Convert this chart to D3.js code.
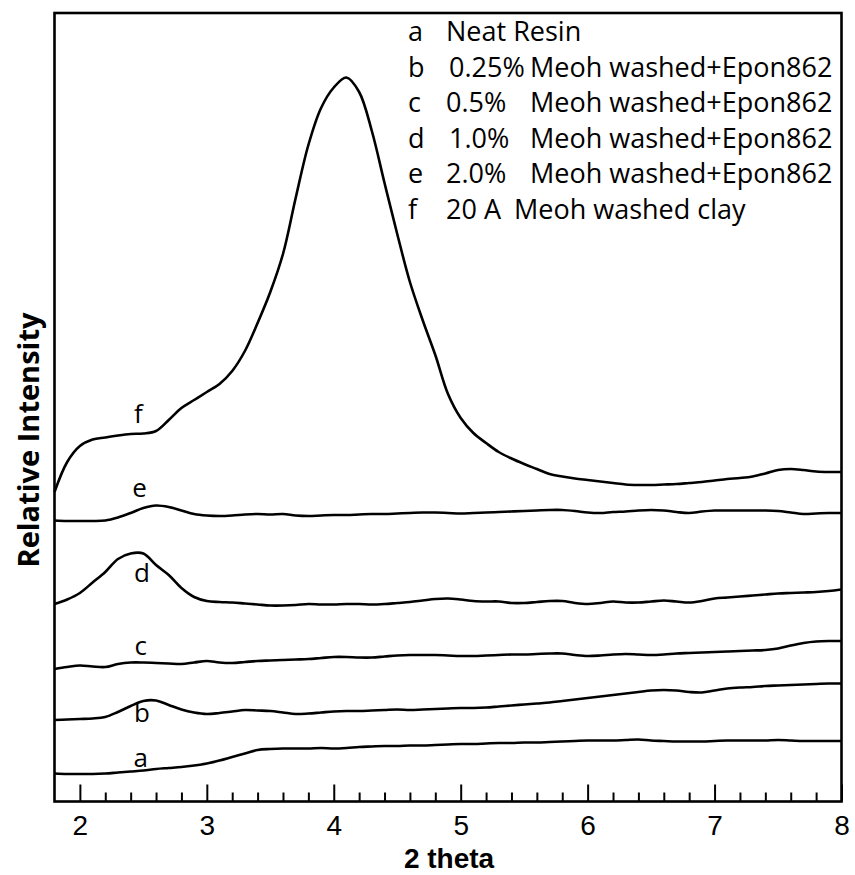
<!DOCTYPE html>
<html>
<head>
<meta charset="utf-8">
<script src="https://cdn.jsdelivr.net/npm/d3@7"></script>
<style>
body { margin: 0; background: #fff; }
svg { display: block; font-family: "Open Sans", sans-serif; }
</style>
</head>
<body>
<script>
// 2 theta grid (degrees)
const theta = [1.8, 1.9, 2.0, 2.1, 2.2, 2.3, 2.4, 2.5, 2.6, 2.7,
    2.8, 2.9, 3.0, 3.1, 3.2, 3.3, 3.4, 3.5, 3.6, 3.7,
    3.8, 3.9, 4.0, 4.1, 4.2, 4.3, 4.4, 4.5, 4.6, 4.7,
    4.8, 4.9, 5.0, 5.1, 5.2, 5.3, 5.4, 5.5, 5.6, 5.7,
    5.8, 5.9, 6.0, 6.1, 6.2, 6.3, 6.4, 6.5, 6.6, 6.7,
    6.8, 6.9, 7.0, 7.1, 7.2, 7.3, 7.4, 7.5, 7.6, 7.7,
    7.8, 7.9, 8.0];

// relative intensity (arbitrary units, curves already offset)
const curveA = [28, 27.5, 27.5, 27.5, 28, 29, 30, 31, 32.5, 33.5,
    34.5, 36, 38, 41, 44.5, 48, 51.5, 52.5, 53, 53,
    53, 53.5, 53, 53.5, 54.5, 55, 55.5, 55.5, 56, 56,
    56.5, 57, 57.5, 57.5, 58, 58.5, 58.5, 59, 59, 59.5,
    60, 60.5, 61, 61, 61, 61.5, 62, 61, 60.5, 60,
    60, 60, 60.5, 61, 61, 61, 61, 61.5, 61, 60.5,
    60.5, 60.5, 60.5];
const curveB = [81.5, 82, 82.5, 83, 84.5, 89.5, 95.5, 100.5, 101, 96.5,
    92, 89, 87.5, 88.5, 90, 91.5, 91, 90.5, 89, 87.5,
    88, 89, 90, 90.5, 90.5, 91, 91.5, 92, 91.5, 92,
    92.5, 93, 93.5, 93.5, 94, 95, 96, 97, 98, 99,
    100.5, 102, 103.5, 105, 106.5, 108, 109.5, 111, 111.5, 111,
    109.5, 109, 111, 113, 114, 114.5, 115.5, 116, 116.5, 117,
    117.5, 118, 118];
const curveC = [132.5, 134.5, 136, 135, 134.5, 137.5, 139, 139, 138.5, 138,
    137.5, 139, 140.5, 139, 138.5, 139.5, 140.5, 141, 141.5, 142,
    142.5, 143.5, 144.5, 144.5, 144, 144, 145, 146, 146.5, 146.5,
    146.5, 146, 145.5, 145.5, 146, 146.5, 147, 147, 147.5, 148,
    148, 146.5, 145.5, 146, 147, 147.5, 147, 146.5, 147, 148,
    148.5, 149, 149.5, 150, 150.5, 151, 151.5, 153, 156, 158.5,
    160, 160.5, 160.5];
const curveD = [197.5, 202, 208.5, 219, 229.5, 242.5, 248, 248, 236.5, 226.5,
    213.5, 204.5, 200.5, 199.5, 199, 198, 197, 196, 196, 196.5,
    197.5, 197, 197, 197.5, 197.5, 197, 197.5, 198.5, 199.5, 201,
    202.5, 203, 202, 200.5, 200, 200, 198.5, 198.5, 199.5, 200.5,
    200.5, 198.5, 197.5, 198.5, 200, 199, 199, 200, 201, 200,
    199, 200.5, 203, 204, 205, 206, 207, 208, 208.5, 209,
    209.5, 210.5, 212];
const curveE = [281, 280.5, 280.5, 280.5, 281, 284, 288.5, 293.5, 296, 294.5,
    291, 287.5, 286, 285.5, 286, 287, 287.5, 287, 287.5, 286,
    285.5, 286, 286.5, 286.5, 287, 287.5, 287.5, 288, 288.5, 289,
    289, 288.5, 288, 288.5, 289, 289.5, 290, 290.5, 291, 291.5,
    291.5, 290.5, 289, 288.5, 289.5, 290, 291, 291.5, 291, 289.5,
    288.5, 290, 291, 291, 291, 291, 291, 290.5, 289, 287.5,
    288, 288.5, 288.5];
const curveF = [309.5, 339.5, 355.5, 362, 364, 366, 367.5, 368, 370.5, 381.5,
    393.5, 401.5, 409.5, 417.5, 430.5, 450.5, 478.5, 509.5, 547.5, 603.5,
    656.5, 693.5, 714, 724, 709.5, 670.5, 618.5, 567.5, 519.5, 481.5,
    446.5, 407.5, 383.5, 368.5, 358.5, 349.5, 343, 337.5, 332.5, 327.5,
    325, 323, 321.5, 320, 318.5, 317, 316.5, 316.5, 317, 317.5,
    318.5, 319.5, 321, 322.5, 323.5, 325, 328, 331.5, 332.5, 331.5,
    330, 329.5, 329.5];

const seriesKeys = ['a', 'b', 'c', 'd', 'e', 'f'];
const seriesValues = [curveA, curveB, curveC, curveD, curveE, curveF];
const legendConc = ['Neat Resin', '0.25%', '0.5%', '1.0%', '2.0%', '20 A'];
const legendDesc = ['', 'Meoh washed+Epon862', 'Meoh washed+Epon862',
    'Meoh washed+Epon862', 'Meoh washed+Epon862', 'Meoh washed clay'];
// where the a..f tags sit next to each curve
const tagTheta = [2.48, 2.49, 2.48, 2.49, 2.47, 2.46];
const tagLevel = [34.5, 79.5, 146.5, 219.5, 304.5, 378.5];
const majorTicks = [2, 3, 4, 5, 6, 7, 8];

let width = 855,
    height = 875;

let svg = d3.select('body').append('svg')
    .attr('width', width)
    .attr('height', height);

let x = d3.scaleLinear().domain([1.8, 8]).range([54.5, 841.5]);
let y = d3.scaleLinear().domain([0, 788.5]).range([801.5, 13]);

// minor ticks every 0.2
let minorTicks = d3.range(2, 8, 0.2).filter(v => Math.abs(v - Math.round(v)) > 0.01);

let minorAxis = svg.append('g')
    .attr('transform', 'translate(0,' + y(0) + ')')
    .call(d3.axisBottom(x).tickValues(minorTicks).tickSize(-9).tickFormat(''));
minorAxis.select('.domain').remove();
minorAxis.selectAll('line').attr('stroke', '#000').attr('stroke-width', 2);

let majorAxis = svg.append('g')
    .attr('transform', 'translate(0,' + y(0) + ')')
    .call(d3.axisBottom(x).tickValues(majorTicks).tickSize(-17).tickPadding(14).tickFormat(d3.format('d')));
majorAxis.select('.domain').remove();
majorAxis.selectAll('line').attr('stroke', '#000').attr('stroke-width', 2);
majorAxis.selectAll('text')
    .attr('fill', '#000')
    .style('font-size', '28px')
    .style('font-family', '"Liberation Sans", sans-serif');

// frame
svg.append('rect')
    .attr('x', x(1.8))
    .attr('y', y(788.5))
    .attr('width', x(8) - x(1.8))
    .attr('height', y(0) - y(788.5))
    .attr('fill', 'none')
    .attr('stroke', '#000')
    .attr('stroke-width', 2.6);

let line = d3.line()
    .x((d, i) => x(theta[i]))
    .y(d => y(d))
    .curve(d3.curveCatmullRom.alpha(0.5));

svg.selectAll('path.trace')
    .data(seriesValues)
    .enter().append('path')
    .attr('class', 'trace')
    .attr('d', line)
    .attr('fill', 'none')
    .attr('stroke', '#000')
    .attr('stroke-width', 2.6)
    .attr('stroke-linejoin', 'round');

// curve tags
svg.selectAll('text.tag')
    .data(seriesKeys)
    .enter().append('text')
    .attr('class', 'tag')
    .attr('x', (d, i) => x(tagTheta[i]))
    .attr('y', (d, i) => y(tagLevel[i]))
    .attr('text-anchor', 'middle')
    .style('font-size', '26px')
    .text(d => d);

// legend
let legend = svg.append('g').style('font-size', '27px');
seriesKeys.forEach((k, i) => {
    let by = 41 + i * 35.6;
    legend.append('text').attr('x', 408).attr('y', by).text(k);
    legend.append('text').attr('x', i === 1 || i === 3 ? 449 : 446).attr('y', by).text(legendConc[i]);
    legend.append('text').attr('x', i === 5 ? 514 : 530).attr('y', by).text(legendDesc[i]);
});

// axis titles
svg.append('text')
    .attr('x', 449)
    .attr('y', 868)
    .attr('text-anchor', 'middle')
    .style('font-size', '28px')
    .style('font-weight', 'bold')
    .style('font-family', '"Liberation Sans", sans-serif')
    .text('2 theta');

svg.append('text')
    .attr('transform', 'translate(39,440) rotate(-90)')
    .attr('text-anchor', 'middle')
    .style('font-size', '29px')
    .style('font-weight', 'bold')
    .text('Relative Intensity');
</script>
</body>
</html>
